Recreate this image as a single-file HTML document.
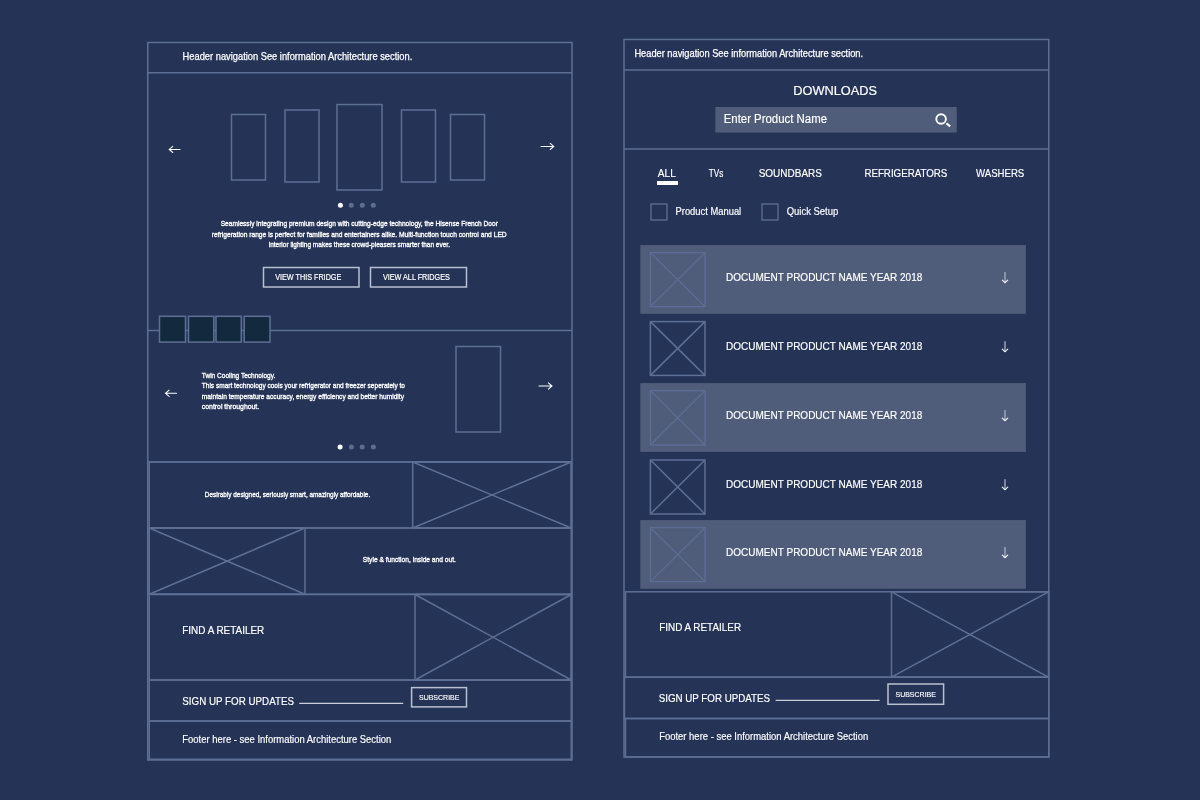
<!DOCTYPE html>
<html><head><meta charset="utf-8"><title>Wireframe</title>
<style>
html,body{margin:0;padding:0;background:#243356;width:1200px;height:800px;overflow:hidden}
svg{display:block;will-change:transform}
text{font-family:"Liberation Sans",sans-serif}
</style></head>
<body>
<svg width="1200" height="800" viewBox="0 0 1200 800">
<rect width="1200" height="800" fill="#243356"/>
<text x="182.6" y="60.4" font-size="10.4" fill="#ffffff" font-weight="normal" text-anchor="start" textLength="229.7" lengthAdjust="spacingAndGlyphs" stroke="#ffffff" stroke-width="0.25">Header navigation See information Architecture section.</text>
<rect x="231.5" y="114.5" width="34.00" height="65.50" stroke="#5e6f95" stroke-width="1.5" fill="none"/>
<rect x="285" y="110" width="34.00" height="72.00" stroke="#5e6f95" stroke-width="1.5" fill="none"/>
<rect x="337" y="104.5" width="45.00" height="85.50" stroke="#5e6f95" stroke-width="1.5" fill="none"/>
<rect x="401.5" y="110" width="34.00" height="72.00" stroke="#5e6f95" stroke-width="1.5" fill="none"/>
<rect x="450.5" y="114.5" width="34.00" height="65.50" stroke="#5e6f95" stroke-width="1.5" fill="none"/>
<path d="M180 149.4 H169.7 M172.79999999999998 146.3 L169.2 149.4 L172.79999999999998 152.5" stroke="#ffffff" stroke-width="1.05" fill="none" stroke-linecap="round"/>
<path d="M541 146.4 H553.3 M550.1999999999999 143.3 L553.8 146.4 L550.1999999999999 149.5" stroke="#ffffff" stroke-width="1.05" fill="none" stroke-linecap="round"/>
<circle cx="340.4" cy="205.2" r="2.5" fill="#ffffff"/>
<circle cx="351.3" cy="205.2" r="2.5" fill="#5d6d90"/>
<circle cx="362.3" cy="205.2" r="2.5" fill="#5d6d90"/>
<circle cx="373.3" cy="205.2" r="2.5" fill="#5d6d90"/>
<text x="220.7" y="226.3" font-size="8" fill="#ffffff" font-weight="normal" text-anchor="start" textLength="277.2" lengthAdjust="spacingAndGlyphs" stroke="#ffffff" stroke-width="0.35">Seamlessly integrating premium design with cutting-edge technology, the Hisense French Door</text>
<text x="211.7" y="236.6" font-size="8" fill="#ffffff" font-weight="normal" text-anchor="start" textLength="295.0" lengthAdjust="spacingAndGlyphs" stroke="#ffffff" stroke-width="0.35">refrigeration range is perfect for families and entertainers alike. Multi-function touch control and LED</text>
<text x="268.7" y="247" font-size="8" fill="#ffffff" font-weight="normal" text-anchor="start" textLength="181.3" lengthAdjust="spacingAndGlyphs" stroke="#ffffff" stroke-width="0.35">interior lighting makes these crowd-pleasers smarter than ever.</text>
<rect x="263.5" y="267.5" width="95.50" height="19.50" stroke="#b9c1d1" stroke-width="1.5" fill="none"/>
<rect x="370.5" y="267.5" width="96.00" height="19.50" stroke="#b9c1d1" stroke-width="1.5" fill="none"/>
<text x="275.2" y="279.9" font-size="8.8" fill="#ffffff" font-weight="normal" text-anchor="start" textLength="66.1" lengthAdjust="spacingAndGlyphs" stroke="#ffffff" stroke-width="0.2">VIEW THIS FRIDGE</text>
<text x="382.9" y="279.9" font-size="8.8" fill="#ffffff" font-weight="normal" text-anchor="start" textLength="67.0" lengthAdjust="spacingAndGlyphs" stroke="#ffffff" stroke-width="0.2">VIEW ALL FRIDGES</text>
<text x="201.8" y="378.2" font-size="8" fill="#ffffff" font-weight="normal" text-anchor="start" textLength="73.5" lengthAdjust="spacingAndGlyphs" stroke="#ffffff" stroke-width="0.35">Twin Cooling Technology.</text>
<text x="201.8" y="387.9" font-size="8" fill="#ffffff" font-weight="normal" text-anchor="start" textLength="203.2" lengthAdjust="spacingAndGlyphs" stroke="#ffffff" stroke-width="0.35">This smart technology cools your refrigerator and freezer seperately to</text>
<text x="201.8" y="398.9" font-size="8" fill="#ffffff" font-weight="normal" text-anchor="start" textLength="202.2" lengthAdjust="spacingAndGlyphs" stroke="#ffffff" stroke-width="0.35">maintain temperature accuracy, energy efficiency and better humidity</text>
<text x="201.8" y="409" font-size="8" fill="#ffffff" font-weight="normal" text-anchor="start" textLength="57.4" lengthAdjust="spacingAndGlyphs" stroke="#ffffff" stroke-width="0.35">control throughout.</text>
<rect x="456" y="346.5" width="44.50" height="85.50" stroke="#5e6f95" stroke-width="1.5" fill="none"/>
<path d="M176.5 393.3 H166.0 M169.1 390.2 L165.5 393.3 L169.1 396.40000000000003" stroke="#ffffff" stroke-width="1.05" fill="none" stroke-linecap="round"/>
<path d="M539 386 H551.5 M548.4 382.9 L552 386 L548.4 389.1" stroke="#ffffff" stroke-width="1.05" fill="none" stroke-linecap="round"/>
<circle cx="340.1" cy="446.9" r="2.5" fill="#ffffff"/>
<circle cx="351.4" cy="446.9" r="2.5" fill="#5d6d90"/>
<circle cx="362.2" cy="446.9" r="2.5" fill="#5d6d90"/>
<circle cx="373.4" cy="446.9" r="2.5" fill="#5d6d90"/>
<line x1="147.75" y1="330.5" x2="572" y2="330.5" stroke="#5e6f95" stroke-width="1.5"/>
<rect x="159.5" y="316.3" width="26.00" height="25.80" stroke="#5e6f95" stroke-width="1.5" fill="#132a3e"/>
<rect x="188.5" y="316.3" width="25.30" height="25.80" stroke="#5e6f95" stroke-width="1.5" fill="#132a3e"/>
<rect x="216" y="316.3" width="25.30" height="25.80" stroke="#5e6f95" stroke-width="1.5" fill="#132a3e"/>
<rect x="244.2" y="316.3" width="25.80" height="25.80" stroke="#5e6f95" stroke-width="1.5" fill="#132a3e"/>
<line x1="147.75" y1="462" x2="572" y2="462" stroke="#5e6f95" stroke-width="1.5"/>
<rect x="149.25" y="462" width="422.00" height="66.00" stroke="#5e6f95" stroke-width="1.5" fill="none"/>
<rect x="412.7" y="462" width="158.55" height="66.00" stroke="#5e6f95" stroke-width="1.5" fill="none"/>
<line x1="412.7" y1="462" x2="571.25" y2="528" stroke="#5e6f95" stroke-width="1.5"/>
<line x1="412.7" y1="528" x2="571.25" y2="462" stroke="#5e6f95" stroke-width="1.5"/>
<text x="204.8" y="497" font-size="8" fill="#ffffff" font-weight="normal" text-anchor="start" textLength="165.4" lengthAdjust="spacingAndGlyphs" stroke="#ffffff" stroke-width="0.35">Desirably designed, seriously smart, amazingly affordable.</text>
<rect x="149.25" y="528" width="422.00" height="66.20" stroke="#5e6f95" stroke-width="1.5" fill="none"/>
<rect x="149.25" y="528" width="155.75" height="66.20" stroke="#5e6f95" stroke-width="1.5" fill="none"/>
<line x1="149.25" y1="528" x2="305" y2="594.2" stroke="#5e6f95" stroke-width="1.5"/>
<line x1="149.25" y1="594.2" x2="305" y2="528" stroke="#5e6f95" stroke-width="1.5"/>
<text x="362.8" y="562.1" font-size="8" fill="#ffffff" font-weight="normal" text-anchor="start" textLength="93.1" lengthAdjust="spacingAndGlyphs" stroke="#ffffff" stroke-width="0.35">Style &amp; function, inside and out.</text>
<rect x="149.25" y="594.5" width="422.00" height="85.50" stroke="#5e6f95" stroke-width="1.5" fill="none"/>
<rect x="415" y="594.5" width="156.25" height="85.50" stroke="#5e6f95" stroke-width="1.5" fill="none"/>
<line x1="415" y1="594.5" x2="571.25" y2="680" stroke="#5e6f95" stroke-width="1.5"/>
<line x1="415" y1="680" x2="571.25" y2="594.5" stroke="#5e6f95" stroke-width="1.5"/>
<text x="182.3" y="634.2" font-size="11" fill="#ffffff" font-weight="normal" text-anchor="start" textLength="81.9" lengthAdjust="spacingAndGlyphs" stroke="#ffffff" stroke-width="0.18">FIND A RETAILER</text>
<rect x="149.25" y="680" width="422.00" height="41.00" stroke="#5e6f95" stroke-width="1.5" fill="none"/>
<text x="182.3" y="705.2" font-size="11" fill="#ffffff" font-weight="normal" text-anchor="start" textLength="111.7" lengthAdjust="spacingAndGlyphs" stroke="#ffffff" stroke-width="0.18">SIGN UP FOR UPDATES</text>
<line x1="299.2" y1="703.4" x2="403.2" y2="703.4" stroke="#c9ced9" stroke-width="1.2"/>
<rect x="411.6" y="687.6" width="54.90" height="19.30" stroke="#b9c1d1" stroke-width="1.5" fill="none"/>
<text x="419" y="700.1" font-size="8" fill="#ffffff" font-weight="normal" text-anchor="start" textLength="40.4" lengthAdjust="spacingAndGlyphs" stroke="#ffffff" stroke-width="0.15">SUBSCRIBE</text>
<rect x="149.25" y="721" width="422.00" height="38.25" stroke="#5e6f95" stroke-width="1.5" fill="none"/>
<text x="182.3" y="743.4" font-size="11" fill="#ffffff" font-weight="normal" text-anchor="start" textLength="209.0" lengthAdjust="spacingAndGlyphs" stroke="#ffffff" stroke-width="0.18">Footer here - see Information Architecture Section</text>
<rect x="147.75" y="42.5" width="424.25" height="717.50" stroke="#5e6f95" stroke-width="1.5" fill="none"/>
<line x1="147.75" y1="72.75" x2="572" y2="72.75" stroke="#5e6f95" stroke-width="1.5"/>
<text x="634.4" y="57.1" font-size="10.4" fill="#ffffff" font-weight="normal" text-anchor="start" textLength="228.7" lengthAdjust="spacingAndGlyphs" stroke="#ffffff" stroke-width="0.25">Header navigation See information Architecture section.</text>
<line x1="624" y1="70" x2="1048.75" y2="70" stroke="#5e6f95" stroke-width="1.5"/>
<text x="793.3" y="95" font-size="12" fill="#ffffff" font-weight="normal" text-anchor="start" textLength="83.7" lengthAdjust="spacingAndGlyphs" stroke="#ffffff" stroke-width="0.18">DOWNLOADS</text>
<rect x="715.3" y="107" width="241.45" height="25.60" fill="#4f5c7a"/>
<text x="723.7" y="123.1" font-size="12" fill="#ffffff" font-weight="normal" text-anchor="start" textLength="103.3" lengthAdjust="spacingAndGlyphs" stroke="#ffffff" stroke-width="0.18">Enter Product Name</text>
<circle cx="941.1" cy="119" r="4.8" stroke="#ffffff" stroke-width="1.9" fill="none"/>
<line x1="946.4" y1="123.4" x2="950.2" y2="126.4" stroke="#ffffff" stroke-width="2.1"/>
<line x1="624" y1="149" x2="1048.75" y2="149" stroke="#5e6f95" stroke-width="1.5"/>
<text x="657.8" y="177" font-size="11" fill="#ffffff" font-weight="normal" text-anchor="start" textLength="18.0" lengthAdjust="spacingAndGlyphs" stroke="#ffffff" stroke-width="0.18">ALL</text>
<rect x="657" y="181" width="21.00" height="4.00" fill="#ffffff"/>
<text x="708.8" y="177" font-size="11" fill="#ffffff" font-weight="normal" text-anchor="start" textLength="14.5" lengthAdjust="spacingAndGlyphs" stroke="#ffffff" stroke-width="0.18">TVs</text>
<text x="758.7" y="177" font-size="11" fill="#ffffff" font-weight="normal" text-anchor="start" textLength="63.3" lengthAdjust="spacingAndGlyphs" stroke="#ffffff" stroke-width="0.18">SOUNDBARS</text>
<text x="864.4" y="177" font-size="11" fill="#ffffff" font-weight="normal" text-anchor="start" textLength="82.9" lengthAdjust="spacingAndGlyphs" stroke="#ffffff" stroke-width="0.18">REFRIGERATORS</text>
<text x="976" y="177" font-size="11" fill="#ffffff" font-weight="normal" text-anchor="start" textLength="48.3" lengthAdjust="spacingAndGlyphs" stroke="#ffffff" stroke-width="0.18">WASHERS</text>
<rect x="651" y="204" width="16.00" height="16.00" stroke="#56688b" stroke-width="1.5" fill="none"/>
<text x="675.5" y="215" font-size="11" fill="#ffffff" font-weight="normal" text-anchor="start" textLength="65.7" lengthAdjust="spacingAndGlyphs" stroke="#ffffff" stroke-width="0.18">Product Manual</text>
<rect x="762" y="204" width="16.00" height="16.00" stroke="#56688b" stroke-width="1.5" fill="none"/>
<text x="786.7" y="215" font-size="11" fill="#ffffff" font-weight="normal" text-anchor="start" textLength="51.6" lengthAdjust="spacingAndGlyphs" stroke="#ffffff" stroke-width="0.18">Quick Setup</text>
<rect x="640.3" y="245.1" width="385.60" height="68.70" fill="#505d7a"/>
<rect x="640.3" y="383.1" width="385.60" height="68.80" fill="#505d7a"/>
<rect x="640.3" y="520.1" width="385.60" height="68.70" fill="#505d7a"/>
<rect x="650.4" y="252.6" width="54.60" height="54.00" stroke="#5c6e96" stroke-width="1.3" fill="none"/>
<line x1="650.4" y1="252.6" x2="705" y2="306.6" stroke="#5c6e96" stroke-width="1.3"/>
<line x1="650.4" y1="306.6" x2="705" y2="252.6" stroke="#5c6e96" stroke-width="1.3"/>
<text x="726.1" y="281" font-size="11" fill="#ffffff" font-weight="normal" text-anchor="start" textLength="196.2" lengthAdjust="spacingAndGlyphs" stroke="#ffffff" stroke-width="0.18">DOCUMENT PRODUCT NAME YEAR 2018</text>
<line x1="1005" y1="272.1" x2="1005" y2="282.5" stroke="#a3abbd" stroke-width="1.4"/>
<path d="M1002.3 280.1 L1005 282.7 L1007.7 280.1" stroke="#f4f5f8" stroke-width="1.15" fill="none" stroke-linecap="round"/>
<rect x="650.4" y="321.6" width="54.60" height="53.80" stroke="#5e6f95" stroke-width="1.5" fill="none"/>
<line x1="650.4" y1="321.6" x2="705" y2="375.4" stroke="#5e6f95" stroke-width="1.5"/>
<line x1="650.4" y1="375.4" x2="705" y2="321.6" stroke="#5e6f95" stroke-width="1.5"/>
<text x="726.1" y="350.1" font-size="11" fill="#ffffff" font-weight="normal" text-anchor="start" textLength="196.2" lengthAdjust="spacingAndGlyphs" stroke="#ffffff" stroke-width="0.18">DOCUMENT PRODUCT NAME YEAR 2018</text>
<line x1="1005" y1="341.20000000000005" x2="1005" y2="351.6" stroke="#a3abbd" stroke-width="1.4"/>
<path d="M1002.3 349.20000000000005 L1005 351.8 L1007.7 349.20000000000005" stroke="#f4f5f8" stroke-width="1.15" fill="none" stroke-linecap="round"/>
<rect x="650.4" y="390.6" width="54.60" height="54.40" stroke="#5c6e96" stroke-width="1.3" fill="none"/>
<line x1="650.4" y1="390.6" x2="705" y2="445" stroke="#5c6e96" stroke-width="1.3"/>
<line x1="650.4" y1="445" x2="705" y2="390.6" stroke="#5c6e96" stroke-width="1.3"/>
<text x="726.1" y="419" font-size="11" fill="#ffffff" font-weight="normal" text-anchor="start" textLength="196.2" lengthAdjust="spacingAndGlyphs" stroke="#ffffff" stroke-width="0.18">DOCUMENT PRODUCT NAME YEAR 2018</text>
<line x1="1005" y1="410.1" x2="1005" y2="420.5" stroke="#a3abbd" stroke-width="1.4"/>
<path d="M1002.3 418.1 L1005 420.7 L1007.7 418.1" stroke="#f4f5f8" stroke-width="1.15" fill="none" stroke-linecap="round"/>
<rect x="650.4" y="460" width="54.60" height="54.00" stroke="#5e6f95" stroke-width="1.5" fill="none"/>
<line x1="650.4" y1="460" x2="705" y2="514" stroke="#5e6f95" stroke-width="1.5"/>
<line x1="650.4" y1="514" x2="705" y2="460" stroke="#5e6f95" stroke-width="1.5"/>
<text x="726.1" y="488.1" font-size="11" fill="#ffffff" font-weight="normal" text-anchor="start" textLength="196.2" lengthAdjust="spacingAndGlyphs" stroke="#ffffff" stroke-width="0.18">DOCUMENT PRODUCT NAME YEAR 2018</text>
<line x1="1005" y1="479.20000000000005" x2="1005" y2="489.6" stroke="#a3abbd" stroke-width="1.4"/>
<path d="M1002.3 487.20000000000005 L1005 489.8 L1007.7 487.20000000000005" stroke="#f4f5f8" stroke-width="1.15" fill="none" stroke-linecap="round"/>
<rect x="650.4" y="527.6" width="54.60" height="54.00" stroke="#5c6e96" stroke-width="1.3" fill="none"/>
<line x1="650.4" y1="527.6" x2="705" y2="581.6" stroke="#5c6e96" stroke-width="1.3"/>
<line x1="650.4" y1="581.6" x2="705" y2="527.6" stroke="#5c6e96" stroke-width="1.3"/>
<text x="726.1" y="556" font-size="11" fill="#ffffff" font-weight="normal" text-anchor="start" textLength="196.2" lengthAdjust="spacingAndGlyphs" stroke="#ffffff" stroke-width="0.18">DOCUMENT PRODUCT NAME YEAR 2018</text>
<line x1="1005" y1="547.1" x2="1005" y2="557.5" stroke="#a3abbd" stroke-width="1.4"/>
<path d="M1002.3 555.1 L1005 557.7 L1007.7 555.1" stroke="#f4f5f8" stroke-width="1.15" fill="none" stroke-linecap="round"/>
<rect x="625.5" y="591.8" width="423.25" height="85.40" stroke="#5e6f95" stroke-width="1.5" fill="none"/>
<rect x="891.5" y="591.8" width="157.00" height="85.40" stroke="#5e6f95" stroke-width="1.5" fill="none"/>
<line x1="891.5" y1="591.8" x2="1048.5" y2="677.2" stroke="#5e6f95" stroke-width="1.5"/>
<line x1="891.5" y1="677.2" x2="1048.5" y2="591.8" stroke="#5e6f95" stroke-width="1.5"/>
<text x="659.2" y="631" font-size="11" fill="#ffffff" font-weight="normal" text-anchor="start" textLength="81.9" lengthAdjust="spacingAndGlyphs" stroke="#ffffff" stroke-width="0.18">FIND A RETAILER</text>
<rect x="624.5" y="677.2" width="424.25" height="41.30" stroke="#5e6f95" stroke-width="1.5" fill="none"/>
<text x="658.7" y="702.3" font-size="11" fill="#ffffff" font-weight="normal" text-anchor="start" textLength="111.4" lengthAdjust="spacingAndGlyphs" stroke="#ffffff" stroke-width="0.18">SIGN UP FOR UPDATES</text>
<line x1="775.6" y1="700.4" x2="879.6" y2="700.4" stroke="#c9ced9" stroke-width="1.2"/>
<rect x="888" y="684" width="55.60" height="20.30" stroke="#b9c1d1" stroke-width="1.5" fill="none"/>
<text x="895.5" y="696.8" font-size="8" fill="#ffffff" font-weight="normal" text-anchor="start" textLength="40.4" lengthAdjust="spacingAndGlyphs" stroke="#ffffff" stroke-width="0.15">SUBSCRIBE</text>
<rect x="625.5" y="718.5" width="423.25" height="38.50" stroke="#5e6f95" stroke-width="1.5" fill="none"/>
<text x="659.2" y="740.3" font-size="11" fill="#ffffff" font-weight="normal" text-anchor="start" textLength="209.0" lengthAdjust="spacingAndGlyphs" stroke="#ffffff" stroke-width="0.18">Footer here - see Information Architecture Section</text>
<rect x="624" y="39.5" width="424.75" height="717.50" stroke="#5e6f95" stroke-width="1.5" fill="none"/>
</svg>
</body></html>
